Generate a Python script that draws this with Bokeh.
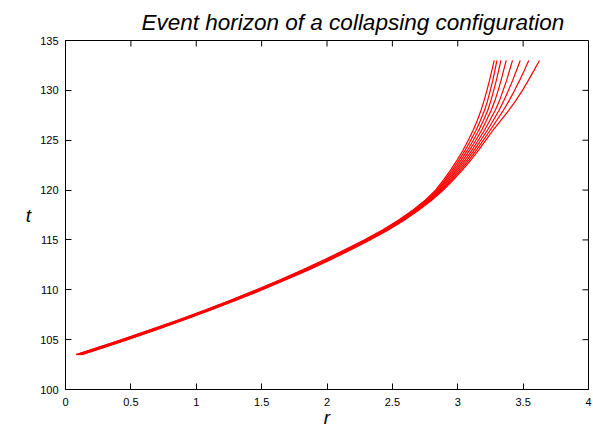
from bokeh.plotting import figure
from bokeh.models import Range1d, LinearAxis, FixedTicker
from bokeh.embed import file_html
from bokeh.resources import INLINE

# ---- data ----
t_values = [103.5, 104.5, 105, 106, 107, 108, 109, 110, 111, 112, 113, 114, 115, 116, 117,
            118, 119, 120, 121, 122, 123, 124, 125, 126, 127, 128, 129, 130, 131, 132, 133]
r_1 = [0.080, 0.315, 0.430, 0.652, 0.866, 1.072, 1.270, 1.460, 1.641, 1.814, 1.979, 2.135, 2.284, 2.424, 2.548, 2.658, 2.753, 2.830, 2.890, 2.945, 2.995, 3.040, 3.080, 3.118, 3.150, 3.178, 3.202, 3.223, 3.243, 3.261, 3.279]
r_2 = [0.086, 0.321, 0.436, 0.658, 0.872, 1.078, 1.276, 1.466, 1.647, 1.820, 1.985, 2.141, 2.290, 2.430, 2.554, 2.664, 2.760, 2.839, 2.901, 2.958, 3.010, 3.057, 3.099, 3.140, 3.174, 3.205, 3.229, 3.249, 3.268, 3.284, 3.300]
r_3 = [0.093, 0.328, 0.443, 0.665, 0.879, 1.085, 1.283, 1.473, 1.654, 1.827, 1.992, 2.148, 2.297, 2.437, 2.561, 2.671, 2.767, 2.847, 2.911, 2.971, 3.025, 3.074, 3.119, 3.161, 3.197, 3.230, 3.254, 3.275, 3.295, 3.313, 3.330]
r_4 = [0.099, 0.334, 0.449, 0.671, 0.885, 1.091, 1.289, 1.479, 1.660, 1.833, 1.998, 2.154, 2.303, 2.443, 2.567, 2.677, 2.774, 2.856, 2.922, 2.984, 3.040, 3.091, 3.138, 3.183, 3.220, 3.256, 3.285, 3.309, 3.331, 3.351, 3.371]
r_5 = [0.106, 0.341, 0.456, 0.678, 0.892, 1.098, 1.296, 1.486, 1.667, 1.840, 2.005, 2.161, 2.310, 2.450, 2.574, 2.684, 2.782, 2.864, 2.933, 2.996, 3.055, 3.109, 3.157, 3.205, 3.246, 3.287, 3.320, 3.347, 3.374, 3.396, 3.419]
r_6 = [0.112, 0.347, 0.462, 0.684, 0.898, 1.104, 1.302, 1.492, 1.673, 1.846, 2.011, 2.167, 2.316, 2.456, 2.580, 2.690, 2.789, 2.873, 2.944, 3.009, 3.070, 3.126, 3.176, 3.227, 3.272, 3.316, 3.354, 3.388, 3.420, 3.449, 3.478]
r_7 = [0.119, 0.354, 0.469, 0.691, 0.905, 1.111, 1.309, 1.499, 1.680, 1.853, 2.018, 2.174, 2.323, 2.463, 2.587, 2.697, 2.796, 2.881, 2.954, 3.022, 3.085, 3.143, 3.196, 3.248, 3.299, 3.349, 3.394, 3.435, 3.473, 3.509, 3.543]
r_8 = [0.125, 0.360, 0.475, 0.697, 0.911, 1.117, 1.315, 1.505, 1.686, 1.859, 2.024, 2.180, 2.329, 2.469, 2.593, 2.703, 2.803, 2.890, 2.965, 3.035, 3.100, 3.160, 3.215, 3.270, 3.330, 3.390, 3.445, 3.495, 3.540, 3.583, 3.625]
curves = [r_1, r_2, r_3, r_4, r_5, r_6, r_7, r_8]

x_ticks = [0, 0.5, 1, 1.5, 2, 2.5, 3, 3.5, 4]
x_tick_labels = ["0", "0.5", "1", "1.5", "2", "2.5", "3", "3.5", "4"]
y_ticks = [100, 105, 110, 115, 120, 125, 130, 135]
y_tick_labels = ["100", "105", "110", "115", "120", "125", "130", "135"]

title_text = "Event horizon of a collapsing configuration"
x_label = "r"
y_label = "t"

FONT = "Liberation Sans"
X_MIN, X_MAX = 0, 4
Y_MIN, Y_MAX = 100, 135

p = figure(width=593, height=430, output_backend="svg", toolbar_location=None,
           x_range=Range1d(X_MIN, X_MAX), y_range=Range1d(Y_MIN, Y_MAX),
           x_axis_location=None, y_axis_location=None,
           min_border_left=65, min_border_right=5, min_border_top=40, min_border_bottom=40)
p.grid.visible = False
p.outline_line_color = "black"
p.outline_line_width = 1
p.background_fill_color = "white"
p.border_fill_color = "white"

p.title.text = title_text
p.title.text_font = FONT
p.title.text_font_style = "italic"
p.title.text_font_size = "22.5px"
p.title.text_color = "black"
p.title.align = "left"
p.title.offset = 76
p.title.standoff = 11

def make_axis(ticks, labels):
    ax = LinearAxis(ticker=FixedTicker(ticks=ticks),
                    major_label_overrides={tk: lb for tk, lb in zip(ticks, labels)})
    ax.axis_line_color = "black"
    ax.major_tick_line_color = "black"
    ax.major_tick_in = 6
    ax.major_tick_out = 0
    ax.minor_tick_line_color = None
    ax.major_label_text_font = FONT
    ax.major_label_text_font_size = "11px"
    ax.major_label_text_color = "black"
    ax.axis_label_text_font = FONT
    ax.axis_label_text_font_style = "italic"
    ax.axis_label_text_font_size = "19px"
    ax.axis_label_text_color = "black"
    return ax

bottom = make_axis(x_ticks, x_tick_labels)
bottom.axis_label = x_label
bottom.major_label_standoff = 8
bottom.axis_label_standoff = -2
left = make_axis(y_ticks, y_tick_labels)
left.axis_label = y_label
left.axis_label_orientation = "horizontal"
left.major_label_standoff = 7
left.axis_label_standoff = 6
p.add_layout(bottom, "below")
p.add_layout(left, "left")

# mirrored inward ticks on the top and right edges of the frame
tick_len_y = 0.6    # 6 px in t units
tick_len_x = 0.046  # 6 px in r units
p.segment(x0=x_ticks, y0=[Y_MAX] * len(x_ticks), x1=x_ticks, y1=[Y_MAX - tick_len_y] * len(x_ticks),
          line_color="black", line_width=1)
p.segment(x0=[X_MAX] * len(y_ticks), y0=y_ticks, x1=[X_MAX - tick_len_x] * len(y_ticks), y1=y_ticks,
          line_color="black", line_width=1)

for rc in curves:
    p.line(rc, t_values, line_color="#ff0000", line_width=1.2)

open("out.html", "w").write(file_html(p, INLINE))
